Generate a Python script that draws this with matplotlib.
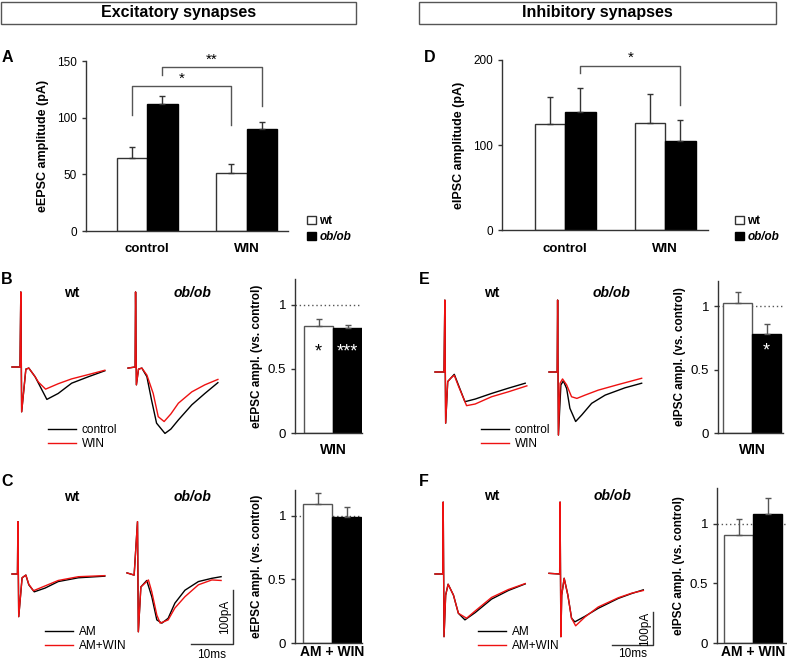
import numpy as np
import matplotlib
matplotlib.use('Agg')
import matplotlib.pyplot as plt
from matplotlib.patches import Rectangle, Patch
from matplotlib.lines import Line2D

plt.rcParams['font.family'] = ['Liberation Sans', 'DejaVu Sans']

# ---- bar data (mean, sem) ----
groups = ['control', 'WIN']
exc_wt = [64, 51]
exc_wt_sem = [10, 8]
exc_ob = [112, 90]
exc_ob_sem = [7, 6]
inh_wt = [125, 126]
inh_wt_sem = [32, 34]
inh_ob = [139, 105]
inh_ob_sem = [28, 24]

# normalised amplitudes (vs. control), wt / ob/ob
exc_win = [0.83, 0.815]
exc_win_sem = [0.055, 0.03]
exc_amwin = [1.09, 0.99]
exc_amwin_sem = [0.09, 0.08]
inh_win = [1.03, 0.78]
inh_win_sem = [0.08, 0.08]
inh_amwin = [0.91, 1.08]
inh_amwin_sem = [0.13, 0.14]

# ---- example traces (ms, pA) ----
bwt_t_ctl = [0, 1.9, 2.1, 2.3, 3.3, 4.0, 5.5, 6.3, 8.3, 11.0, 14.2, 18.2, 22.1]
bwt_i_ctl = [0, 0, 139, -83, -4, -2, -18, -30, -60, -49, -30, -18, -7]
bwt_t_win = [0, 1.9, 2.1, 2.3, 3.3, 4.0, 5.5, 6.3, 8.0, 11.0, 14.2, 18.2, 22.1]
bwt_i_win = [0, 0, 139, -83, -4, -2, -18, -28, -41, -31, -22, -14, -6]

bob_t_ctl = [0, 1.7, 1.8, 2.0, 2.5, 3.3, 4.5, 5.6, 6.8, 8.8, 10.2, 12.0, 15.2, 18.3, 21.4]
bob_i_ctl = [-2, 0, 139, -33, -4, -2, -18, -61, -104, -123, -115, -98, -70, -49, -29]
bob_t_win = [0, 1.7, 1.8, 2.0, 2.5, 3.3, 4.5, 6.0, 7.2, 8.6, 10.2, 12.0, 15.2, 18.3, 21.4]
bob_i_win = [-2, 0, 139, -33, -4, -2, -15, -49, -92, -101, -87, -67, -46, -33, -23]

cwt_t_am = [0, 1.3, 1.4, 1.6, 2.4, 3.3, 4.0, 5.3, 7.9, 11.0, 15.8, 22.1]
cwt_i_am = [0, 0, 97, -79, -7, -2, -20, -33, -26, -14, -7, -4]
cwt_t_win = [0, 1.3, 1.4, 1.6, 2.4, 3.3, 4.0, 5.1, 7.9, 11.0, 15.8, 22.1]
cwt_i_win = [0, 0, 97, -79, -7, -2, -19, -31, -22, -12, -5, -3]

cob_t_am = [0, 1.7, 2.5, 2.7, 3.3, 4.7, 5.9, 7.1, 8.3, 9.8, 11.4, 13.8, 17.0, 20.2, 22.4]
cob_i_am = [2, -2, 97, -107, -24, -12, -42, -85, -91, -82, -54, -30, -14, -8, -5]
cob_t_win = [0, 1.7, 2.5, 2.7, 3.3, 5.1, 5.9, 7.1, 7.9, 9.8, 11.4, 13.8, 17.0, 20.2, 22.4]
cob_i_win = [2, -2, 97, -107, -24, -11, -33, -76, -91, -85, -63, -42, -20, -11, -12]

ewt_t_ctl = [0, 2.2, 2.4, 2.6, 3.1, 3.9, 4.7, 5.7, 7.3, 9.8, 13.8, 17.9, 22.0]
ewt_i_ctl = [0, 0, 218, -155, -29, -18, -7, -39, -90, -82, -65, -49, -34]
ewt_t_win = [0, 2.2, 2.4, 2.6, 3.1, 3.9, 4.7, 5.7, 7.7, 9.8, 13.8, 17.9, 22.4]
ewt_i_win = [0, 0, 218, -155, -29, -18, -10, -42, -102, -97, -75, -60, -42]

eob_t_ctl = [0, 2.0, 2.1, 2.3, 2.9, 3.5, 4.3, 5.1, 6.5, 8.0, 10.4, 13.7, 18.5, 22.6]
eob_i_ctl = [0, 0, 218, -191, -39, -27, -50, -110, -150, -130, -95, -70, -48, -34]
eob_t_win = [0, 2.0, 2.1, 2.3, 2.7, 3.3, 4.3, 5.5, 6.8, 8.8, 12.0, 16.9, 22.6]
eob_i_win = [0, 0, 218, -191, -34, -21, -39, -75, -80, -70, -55, -38, -19]

fwt_t_am = [0, 1.9, 2.0, 2.2, 2.6, 3.2, 4.5, 5.7, 7.3, 9.8, 13.8, 17.9, 22.0]
fwt_i_am = [0, 0, 218, -190, -64, -31, -64, -119, -139, -117, -76, -50, -30]
fwt_t_win = [0, 1.9, 2.0, 2.2, 2.6, 3.2, 4.5, 5.7, 7.7, 9.8, 13.8, 17.9, 22.0]
fwt_i_win = [0, 0, 218, -190, -64, -31, -64, -119, -134, -112, -71, -47, -29]

fob_t_am = [0, 2.6, 2.7, 2.9, 3.1, 3.7, 4.6, 5.5, 6.3, 8.8, 12.0, 16.9, 20.2, 23.0]
fob_i_am = [2, 0, 218, -190, -64, -13, -64, -134, -145, -128, -104, -74, -59, -48]
fob_t_win = [0, 2.6, 2.7, 2.9, 3.1, 3.7, 4.6, 5.5, 6.5, 8.8, 12.0, 16.9, 20.2, 23.0]
fob_i_win = [2, 0, 218, -190, -64, -13, -64, -134, -157, -130, -100, -72, -58, -50]

W, H = 787, 661
fig = plt.figure(figsize=(W / 100, H / 100), dpi=100)
AXC = '#333333'
RED = '#ee1111'


def px_axes(l, t, w, h):
    return fig.add_axes([l / W, 1 - (t + h) / H, w / W, h / H])


def ftext(x, y, s, **kw):
    fig.text(x / W, 1 - y / H, s, **kw)


def style_axes(ax):
    for s in ['top', 'right']:
        ax.spines[s].set_visible(False)
    for s in ['left', 'bottom']:
        ax.spines[s].set_color(AXC)
        ax.spines[s].set_linewidth(1)
    ax.tick_params(axis='y', direction='out', length=3, width=1, color=AXC)
    ax.tick_params(axis='x', length=0)


# header boxes
for (x0, x1, txt) in [(1, 356, 'Excitatory synapses'), (419, 776, 'Inhibitory synapses')]:
    fig.patches.append(Rectangle((x0 / W, 1 - 24 / H), (x1 - x0) / W, 22 / H,
                                 transform=fig.transFigure, fill=False,
                                 edgecolor='#555555', lw=1))
    ftext((x0 + x1) / 2, 13, txt, ha='center', va='center', fontsize=11.5, fontweight='bold')


def amp_panel(left, right, top, bottom, c0, c1, ymax, yticks, wt, wt_sem, ob, ob_sem, ylabel):
    ax = px_axes(left, top, right - left, bottom - top)
    unit = c1 - c0
    bw = 30.5 / unit
    x = np.arange(len(groups))
    ax.bar(x - bw / 2, wt, bw, yerr=[np.zeros(2), wt_sem], color='white', edgecolor=AXC,
           lw=1, error_kw=dict(ecolor=AXC, elinewidth=1, capsize=2.5, capthick=1))
    ax.bar(x + bw / 2, ob, bw, yerr=[np.zeros(2), ob_sem], color='black', edgecolor='black',
           lw=1, error_kw=dict(ecolor=AXC, elinewidth=1, capsize=2.5, capthick=1))
    ax.set_xlim((left - c0) / unit, (right - c0) / unit)
    ax.set_ylim(0, ymax)
    ax.set_yticks(yticks)
    ax.set_xticks(x)
    ax.set_xticklabels(groups, fontsize=9.5, fontweight='bold')
    ax.tick_params(axis='x', pad=9)
    ax.tick_params(axis='y', labelsize=8.5)
    ax.set_ylabel(ylabel, fontsize=9, fontweight='bold', labelpad=6)
    style_axes(ax)
    return ax, bw


axA, bw = amp_panel(86, 288, 61, 231, 147, 246.5, 150, [0, 50, 100, 150],
                    exc_wt, exc_wt_sem, exc_ob, exc_ob_sem, 'eEPSC amplitude (pA)')
axA.plot([-bw / 2, -bw / 2, 1 - bw / 2, 1 - bw / 2], [102, 128, 128, 93.5],
         color='#555555', lw=1, clip_on=False)
axA.text(0.5 - bw / 2, 128.5, '*', ha='center', va='bottom', fontsize=11)
axA.plot([bw / 2, bw / 2, 1 + bw / 2, 1 + bw / 2], [137.6, 144.7, 144.7, 110.3],
         color='#555555', lw=1, clip_on=False)
axA.text(0.5 + bw / 2, 145, '**', ha='center', va='bottom', fontsize=11)

axD, bw = amp_panel(502, 708, 60, 230, 565, 665, 200, [0, 100, 200],
                    inh_wt, inh_wt_sem, inh_ob, inh_ob_sem, 'eIPSC amplitude (pA)')
axD.plot([bw / 2, bw / 2, 1 + bw / 2, 1 + bw / 2], [184.5, 193, 193, 147],
         color='#555555', lw=1, clip_on=False)
axD.text(0.5 + bw / 2, 194, '*', ha='center', va='bottom', fontsize=11)

for lx in [307, 735]:
    leg = fig.legend(handles=[Patch(facecolor='white', edgecolor=AXC),
                              Patch(facecolor='black', edgecolor='black')],
                     labels=['wt', 'ob/ob'], loc='upper left',
                     bbox_to_anchor=(lx / W, 1 - 215 / H), frameon=False,
                     handlelength=0.75, handleheight=0.75, handletextpad=0.3,
                     labelspacing=0.35, borderpad=0, borderaxespad=0,
                     prop=dict(weight='bold', size=8.5))
    leg.get_texts()[1].set_style('italic')


def norm_panel(axis_x, wt_left, right, top, bottom, ymax, vals, sems, xlabel, ylabel, pad=6):
    ax = px_axes(axis_x, top, right - axis_x, bottom - top)
    bwp = 29.0
    c0 = wt_left + bwp / 2
    ax.bar([0, 1], vals, 1.0, yerr=[np.zeros(2), sems], color=['white', 'black'],
           edgecolor=['#555555', 'black'], lw=1,
           error_kw=dict(ecolor='#555555', elinewidth=1, capsize=2, capthick=1))
    ax.axhline(1, color='#555555', ls=(0, (1, 2)), lw=1, zorder=0.5)
    ax.set_xlim((axis_x - c0) / bwp, (right - c0) / bwp)
    ax.set_ylim(0, ymax)
    ax.set_yticks([0, 0.5, 1])
    ax.set_yticklabels(['0', '0.5', '1'])
    ax.tick_params(axis='y', labelsize=9.5)
    ax.set_xticks([0.5])
    ax.set_xticklabels([xlabel], fontsize=10, fontweight='bold')
    ax.tick_params(axis='x', pad=pad)
    ax.set_ylabel(ylabel, fontsize=8.5, fontweight='bold', labelpad=3)
    style_axes(ax)
    return ax


axB = norm_panel(295, 304, 362, 279, 433, 1.2, exc_win, exc_win_sem, 'WIN',
                 'eEPSC ampl. (vs. control)', pad=7)
axB.text(0, 0.63, '*', ha='center', va='center', fontsize=13)
axB.text(1, 0.63, '***', ha='center', va='center', fontsize=13, color='white')
axC = norm_panel(295, 303, 362, 490, 643, 1.2, exc_amwin, exc_amwin_sem, 'AM + WIN',
                 'eEPSC ampl. (vs. control)', pad=1.5)
axE = norm_panel(718, 723, 783, 281, 433, 1.2, inh_win, inh_win_sem, 'WIN',
                 'eIPSC ampl. (vs. control)', pad=7)
axE.text(1, 0.65, '*', ha='center', va='center', fontsize=13, color='white')
axF = norm_panel(717, 724, 787, 488, 643, 1.3, inh_amwin, inh_amwin_sem, 'AM + WIN',
                 'eIPSC ampl. (vs. control)', pad=1.5)


def trace_axes(x0, ybase, pxms, pxpa, w=125, up=85, down=85):
    ax = px_axes(x0, ybase - up, w, up + down)
    ax.set_xlim(0, w / pxms)
    ax.set_ylim(-down / pxpa, up / pxpa)
    ax.axis('off')
    return ax


def draw_pair(ax, t1, i1, t2, i2):
    ax.plot(t1, i1, color='black', lw=1.0, clip_on=False)
    ax.plot(t2, i2, color=RED, lw=1.0, clip_on=False)


ax = trace_axes(12, 367, 4.2, 0.54)
draw_pair(ax, bwt_t_ctl, bwt_i_ctl, bwt_t_win, bwt_i_win)
ax = trace_axes(128, 367, 4.2, 0.54)
draw_pair(ax, bob_t_ctl, bob_i_ctl, bob_t_win, bob_i_win)
ax = trace_axes(12, 574, 4.2, 0.54)
draw_pair(ax, cwt_t_am, cwt_i_am, cwt_t_win, cwt_i_win)
ax = trace_axes(127, 574, 4.2, 0.54)
draw_pair(ax, cob_t_am, cob_i_am, cob_t_win, cob_i_win)
ax.plot([15.2, 25.2, 25.2], [-130, -130, -30], color=AXC, lw=1, clip_on=False)
ax.text(23.3, -80, '100pA', rotation=90, ha='center', va='center', fontsize=8.5)
ax.text(20.2, -138, '10ms', ha='center', va='top', fontsize=8.5)

ax = trace_axes(435, 372, 4.1, 0.33)
draw_pair(ax, ewt_t_ctl, ewt_i_ctl, ewt_t_win, ewt_i_win)
ax = trace_axes(549, 372, 4.1, 0.33)
draw_pair(ax, eob_t_ctl, eob_i_ctl, eob_t_win, eob_i_win)
ax = trace_axes(435, 574, 4.1, 0.33)
draw_pair(ax, fwt_t_am, fwt_i_am, fwt_t_win, fwt_i_win)
ax = trace_axes(549, 574, 4.1, 0.33)
draw_pair(ax, fob_t_am, fob_i_am, fob_t_win, fob_i_win)
ax.plot([15.4, 25.4, 25.4], [-215, -215, -115], color=AXC, lw=1, clip_on=False)
ax.text(23.4, -165, '100pA', rotation=90, ha='center', va='center', fontsize=8.5)
ax.text(20.4, -225, '10ms', ha='center', va='top', fontsize=8.5)


def trace_legend(x, y, labels):
    fig.legend(handles=[Line2D([], [], color='black', lw=1), Line2D([], [], color=RED, lw=1)],
               labels=labels, loc='upper left', bbox_to_anchor=(x / W, 1 - y / H),
               frameon=False, fontsize=8.5, handlelength=2.4, handletextpad=0.45,
               labelspacing=0.2, borderpad=0, borderaxespad=0)


trace_legend(48, 424, ['control', 'WIN'])
trace_legend(45, 626, ['AM', 'AM+WIN'])
trace_legend(481, 424, ['control', 'WIN'])
trace_legend(478, 626, ['AM', 'AM+WIN'])

# panel letters and genotype labels
for (x, y, s) in [(7, 57, 'A'), (7, 280, 'B'), (7, 482, 'C'),
                  (430, 57, 'D'), (424, 279, 'E'), (424, 481, 'F')]:
    ftext(x, y, s, ha='center', va='center', fontsize=11.5, fontweight='bold')

for (x, y) in [(72, 293), (72, 497), (492, 293), (492, 496)]:
    ftext(x, y, 'wt', ha='center', va='center', fontsize=10, fontweight='bold')
for (x, y) in [(193, 293), (193, 497), (612, 293), (613, 496)]:
    ftext(x, y, 'ob/ob', ha='center', va='center', fontsize=10, fontweight='bold', style='italic')

fig.savefig('out.png', dpi=100)
